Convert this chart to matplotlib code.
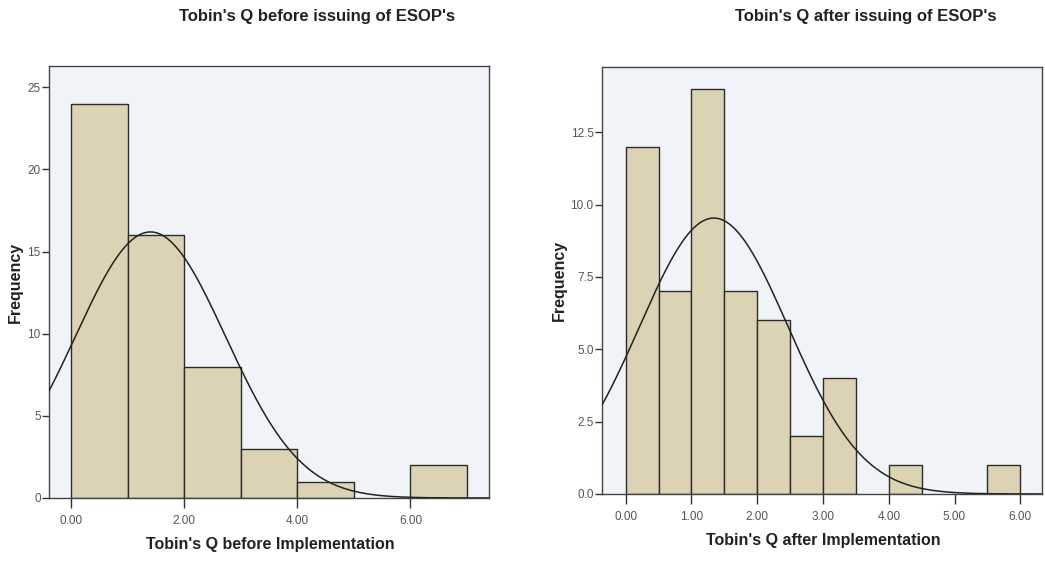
import numpy as np
import matplotlib.pyplot as plt

plt.rcParams['font.family'] = ['Liberation Sans', 'DejaVu Sans']

# before: bins of width 1.0
before_edges = [0, 1, 2, 3, 4, 5, 6, 7]
before_counts = [24, 16, 8, 3, 1, 0, 2]
before_mean, before_sd = 1.40, 1.33

# after: bins of width 0.5
after_edges = [0, 0.5, 1, 1.5, 2, 2.5, 3, 3.5, 4, 4.5, 5, 5.5, 6]
after_counts = [12, 7, 14, 7, 6, 2, 4, 0, 1, 0, 0, 1]
after_mean, after_sd = 1.34, 1.13

left_ticks = [0, 2, 4, 6]
right_ticks = [0, 1, 2, 3, 4, 5, 6]

bar_color = '#dcd3b4'
bg_color = '#f0f4f9'
edge_color = '#2b2b2b'

fig = plt.figure(figsize=(10.45, 5.61), dpi=100)


def panel(rect, edges, counts, mu, sd, xlim, ylim, xticks, yticks, ylabels, title, title_x, xlabel, xlabel_x, xlabel_y):
    ax = fig.add_axes(rect)
    ax.set_facecolor(bg_color)
    edges = np.array(edges, dtype=float)
    counts = np.array(counts)
    w = np.diff(edges)
    keep = counts > 0
    ax.bar(edges[:-1][keep], counts[keep], width=w[keep], align='edge',
           color=bar_color, edgecolor=edge_color, linewidth=1.0, zorder=2)
    n = counts.sum()
    bw = w[0]
    xs = np.linspace(xlim[0], xlim[1], 400)
    ys = n * bw / (sd * np.sqrt(2 * np.pi)) * np.exp(-(xs - mu) ** 2 / (2 * sd ** 2))
    ax.plot(xs, ys, color='#222222', linewidth=1.1, zorder=3)
    ax.set_xlim(*xlim)
    ax.set_ylim(*ylim)
    ax.set_xticks(xticks)
    ax.set_xticklabels(['%.2f' % t for t in xticks])
    ax.set_yticks(yticks)
    ax.set_yticklabels(ylabels)
    ax.tick_params(axis='both', direction='out', labelsize=8.5, colors='#333333',
                   labelcolor='#555555', width=1.0)
    ax.tick_params(axis='x', length=7, pad=5)
    ax.tick_params(axis='y', length=5, pad=1)
    for s in ax.spines.values():
        s.set_color('#444444')
        s.set_linewidth(1.0)
    fig.text(title_x, 1 - 17 / 561, title, ha='center', va='center',
             fontsize=12, fontweight='bold', color='#222222')
    fig.text(xlabel_x, 1 - xlabel_y / 561, xlabel, ha='center', va='center',
             fontsize=11.5, fontweight='bold', color='#222222')
    return ax


ax1 = panel([49 / 1045, 1 - 498 / 561, 440 / 1045, 432 / 561],
            before_edges, before_counts, before_mean, before_sd,
            (-0.395, 7.39), (0, 26.3), left_ticks, [0, 5, 10, 15, 20, 25],
            ['0', '5', '10', '15', '20', '25'],
            "Tobin's Q before issuing of ESOP's", 317 / 1045,
            "Tobin's Q before Implementation", 270 / 1045, 545)
ax1.set_ylabel('Frequency', fontsize=11.5, fontweight='bold', color='#222222', labelpad=3)

ax2 = panel([602 / 1045, 1 - 494 / 561, 440 / 1045, 427 / 561],
            after_edges, after_counts, after_mean, after_sd,
            (-0.36, 6.33), (0, 14.75), right_ticks, [0, 2.5, 5, 7.5, 10, 12.5],
            ['0.0', '2.5', '5.0', '7.5', '10.0', '12.5'],
            "Tobin's Q after issuing of ESOP's", 866 / 1045,
            "Tobin's Q after Implementation", 823 / 1045, 540)
ax2.set_ylabel('Frequency', fontsize=11.5, fontweight='bold', color='#222222', labelpad=3)

fig.savefig('out.png', dpi=100, facecolor='white')
